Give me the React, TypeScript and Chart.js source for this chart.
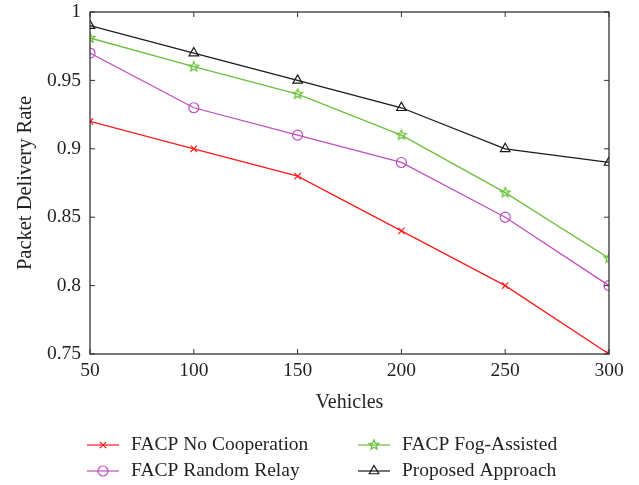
import React, { useEffect, useRef } from 'react';
import { Chart, registerables } from 'chart.js';
import { drawPoint } from 'chart.js/helpers';

Chart.register(...registerables);

const vehicles = [50, 100, 150, 200, 250, 300];
const noCooperation = [0.92, 0.9, 0.88, 0.84, 0.8, 0.75];
const randomRelay = [0.97, 0.93, 0.91, 0.89, 0.85, 0.8];
const fogAssisted = [0.981, 0.96, 0.94, 0.91, 0.868, 0.82];
const proposedApproach = [0.99, 0.97, 0.95, 0.93, 0.9, 0.89];
const yTicks = [0.75, 0.8, 0.85, 0.9, 0.95, 1];
const xTicks = [50, 100, 150, 200, 250, 300];
const seriesNames = ['FACP No Cooperation', 'FACP Random Relay', 'FACP Fog-Assisted', 'Proposed Approach'];

const FONT = "'Liberation Serif', 'DejaVu Serif', serif";
const TEXT = '#231f20';

function makeStar(color: string, r: number) {
  const c = document.createElement('canvas');
  const s = Math.ceil(r * 2 + 4);
  c.width = s;
  c.height = s;
  const ctx = c.getContext('2d')!;
  ctx.strokeStyle = color;
  ctx.lineWidth = 1.3;
  ctx.beginPath();
  for (let i = 0; i < 10; i++) {
    const rad = i % 2 === 0 ? r : r * 0.45;
    const a = -Math.PI / 2 + (i * Math.PI) / 5;
    const x = s / 2 + rad * Math.cos(a);
    const y = s / 2 + rad * Math.sin(a);
    if (i === 0) ctx.moveTo(x, y);
    else ctx.lineTo(x, y);
  }
  ctx.closePath();
  ctx.stroke();
  return c;
}

const pts = (ys: number[]) => vehicles.map((x, i) => ({ x, y: ys[i] }));

export default function App() {
  const ref = useRef<HTMLCanvasElement>(null);
  useEffect(() => {
    const star = makeStar('#6cbf3c', 5);
    const frame = {
      id: 'frame',
      afterDatasetsDraw(chart: any) {
        const { ctx, chartArea: a, scales } = chart;
        ctx.save();
        ctx.strokeStyle = '#333';
        ctx.lineWidth = 1.3;
        ctx.strokeRect(a.left, a.top, a.right - a.left, a.bottom - a.top);
        ctx.lineWidth = 1;
        ctx.beginPath();
        const tl = 5;
        xTicks.forEach((v) => {
          const x = scales.x.getPixelForValue(v);
          ctx.moveTo(x, a.bottom);
          ctx.lineTo(x, a.bottom - tl);
          ctx.moveTo(x, a.top);
          ctx.lineTo(x, a.top + tl);
        });
        yTicks.forEach((v) => {
          const y = scales.y.getPixelForValue(v);
          ctx.moveTo(a.left, y);
          ctx.lineTo(a.left + tl, y);
          ctx.moveTo(a.right, y);
          ctx.lineTo(a.right - tl, y);
        });
        ctx.stroke();
        ctx.restore();
      },
    };
    const legend = {
      id: 'gridLegend',
      afterDraw(chart: any) {
        const { ctx } = chart;
        const cols = [87, 358];
        const rows = [445, 471];
        const order = [
          [0, 0, 0],
          [1, 0, 1],
          [2, 1, 0],
          [3, 1, 1],
        ];
        ctx.save();
        order.forEach(([di, c, r]) => {
          const ds = chart.data.datasets[di];
          const x0 = cols[c];
          const y = rows[r];
          ctx.strokeStyle = ds.borderColor;
          ctx.lineWidth = 1.2;
          ctx.beginPath();
          ctx.moveTo(x0, y);
          ctx.lineTo(x0 + 32, y);
          ctx.stroke();
          ctx.fillStyle = 'rgba(0,0,0,0)';
          ctx.strokeStyle = ds.pointBorderColor;
          ctx.lineWidth = ds.pointBorderWidth;
          drawPoint(ctx, { pointStyle: ds.pointStyle, radius: ds.pointRadius, borderWidth: ds.pointBorderWidth, rotation: 0 } as any, x0 + 16, y);
          ctx.fillStyle = TEXT;
          ctx.font = `19.5px ${FONT}`;
          ctx.textBaseline = 'middle';
          ctx.textAlign = 'left';
          ctx.fillText(seriesNames[di], x0 + 44, y);
        });
        ctx.restore();
      },
    };
    const chart = new Chart(ref.current!, {
      type: 'line',
      data: {
        datasets: [
          {
            label: seriesNames[0],
            data: pts(noCooperation),
            borderColor: '#ff1a1a',
            pointBorderColor: '#ff1a1a',
            pointBackgroundColor: 'rgba(0,0,0,0)',
            pointStyle: 'crossRot',
            pointRadius: 4.5,
            pointBorderWidth: 1.2,
            borderWidth: 1.3,
          },
          {
            label: seriesNames[1],
            data: pts(randomRelay),
            borderColor: '#c04fc0',
            pointBorderColor: '#c04fc0',
            pointBackgroundColor: 'rgba(0,0,0,0)',
            pointStyle: 'circle',
            pointRadius: 5,
            pointBorderWidth: 1.2,
            borderWidth: 1.3,
          },
          {
            label: seriesNames[2],
            data: pts(fogAssisted),
            borderColor: '#6cbf3c',
            pointBorderColor: '#6cbf3c',
            pointBackgroundColor: 'rgba(0,0,0,0)',
            pointStyle: star as any,
            pointRadius: 5,
            pointBorderWidth: 1.2,
            borderWidth: 1.3,
          },
          {
            label: seriesNames[3],
            data: pts(proposedApproach),
            borderColor: '#1a1a1a',
            pointBorderColor: '#1a1a1a',
            pointBackgroundColor: 'rgba(0,0,0,0)',
            pointStyle: 'triangle',
            pointRadius: 5.5,
            pointBorderWidth: 1.2,
            borderWidth: 1.3,
          },
        ],
      },
      options: {
        animation: false,
        responsive: false,
        maintainAspectRatio: false,
        layout: { padding: { left: 0, right: 30, top: 12, bottom: 67 } },
        plugins: { legend: { display: false }, tooltip: { enabled: false } },
        elements: { line: { tension: 0 } },
        scales: {
          x: {
            type: 'linear',
            min: 50,
            max: 300,
            afterBuildTicks: (s: any) => {
              s.ticks = xTicks.map((v) => ({ value: v }));
            },
            afterFit: (s: any) => {
              s.height = 64;
            },
            grid: { display: false, drawTicks: false },
            border: { display: false },
            ticks: { color: TEXT, font: { family: FONT, size: 19.5 }, padding: 5, maxRotation: 0 },
            title: { display: true, text: 'Vehicles', color: TEXT, font: { family: FONT, size: 20 }, padding: { top: 0, bottom: 3 } },
          },
          y: {
            type: 'linear',
            min: 0.75,
            max: 1,
            afterBuildTicks: (s: any) => {
              s.ticks = yTicks.map((v) => ({ value: v }));
            },
            afterFit: (s: any) => {
              s.width = 90;
              s.paddingTop = 0;
              s.paddingBottom = 0;
            },
            grid: { display: false, drawTicks: false },
            border: { display: false },
            ticks: {
              color: TEXT,
              font: { family: FONT, size: 19.5 },
              padding: 9,
              callback: (v: any) => String(Number(Number(v).toFixed(2))),
            },
            title: { display: true, text: 'Packet Delivery Rate', color: TEXT, font: { family: FONT, size: 20.5 }, padding: { top: 13, bottom: 0 } },
          },
        },
      },
      plugins: [frame, legend],
    });
    return () => chart.destroy();
  }, []);
  return (
    <div style={{ position: 'fixed', left: 0, top: 0, width: 639, height: 485, background: '#fff' }}>
      <canvas ref={ref} width={639} height={485} style={{ width: 639, height: 485 }} />
    </div>
  );
}
